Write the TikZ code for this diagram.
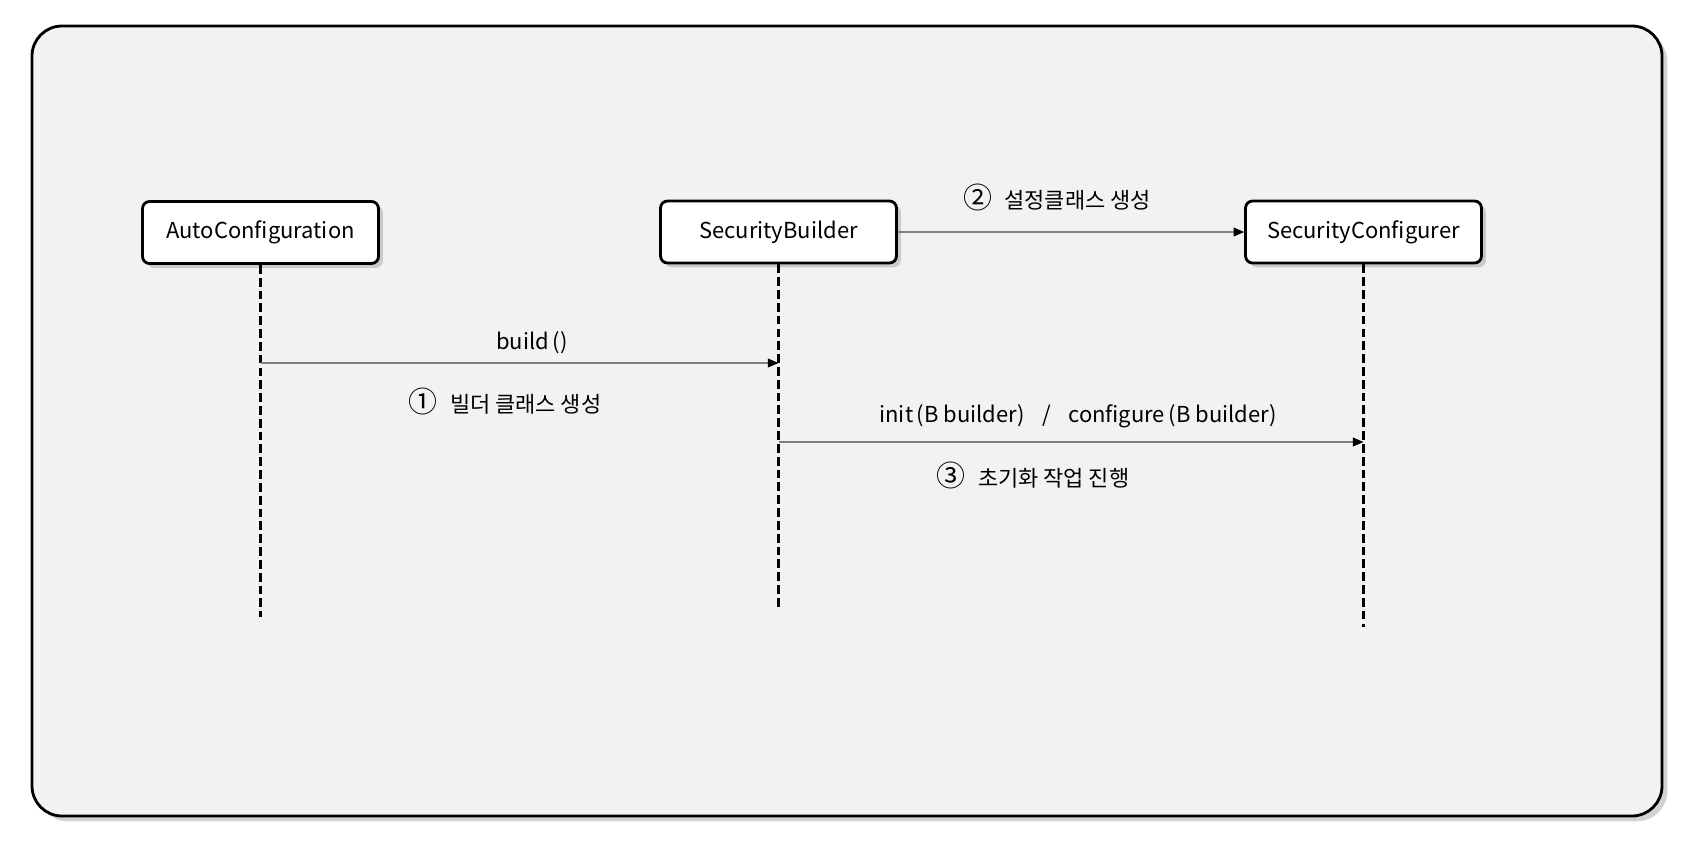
\documentclass[tikz,border=0pt]{standalone}
\usepackage{fontspec}
\setmainfont{Noto Sans CJK KR}
\usetikzlibrary{arrows.meta,shadows}
\definecolor{panelgray}{HTML}{F2F2F2}
\definecolor{msggray}{HTML}{7F7F7F}
\newcommand{\stepno}[1]{{\fontsize{16.5}{16.5}\selectfont #1}\hspace{7pt}}
\tikzset{
    obj/.style={draw=black, line width=1.6pt, fill=white, rounded corners=4pt,
        minimum width=4.72cm, minimum height=1.24cm, font=\fontsize{12.5}{15}\selectfont,
        drop shadow={shadow xshift=2.5pt, shadow yshift=-2.5pt, opacity=0.35}},
    life/.style={line width=1.8pt, dash pattern=on 5pt off 2.3pt},
    msg/.style={draw=msggray, line width=0.6pt, -{Triangle[length=6pt,width=5pt,black]}},
    lbl/.style={font=\fontsize{12.5}{15}\selectfont}
}
\begin{document}
\begin{tikzpicture}[x=0.02cm, y=-0.02cm]
    \useasboundingbox (0,0) rectangle (1704,850);
    % panel
    \draw [line width=1.6pt, fill=panelgray, rounded corners=0.6cm,
        drop shadow={shadow xshift=3pt, shadow yshift=-3pt, opacity=0.35}] (32,26) rectangle (1662,816);
    % objects
    \coordinate (acEnd) at (260.5,617);
    \coordinate (sbEnd) at (778.5,609);
    \coordinate (scEnd) at (1363.5,627);
    \node[obj] (ac) at (260.5,232.5) {AutoConfiguration};
    \node[obj] (sb) at (778.5,232) {SecurityBuilder};
    \node[obj] (sc) at (1363.5,232) {SecurityConfigurer};
    \draw[life] (ac.south) -- (acEnd);
    \draw[life] (sb.south) -- (sbEnd);
    \draw[life] (sc.south) -- (scEnd);
    % messages
    \coordinate (m1a) at (260.5,363);
    \coordinate (m1b) at (778.5,363);
    \coordinate (m3a) at (778.5,442);
    \coordinate (m3b) at (1363.5,442);
    \draw[msg] (m1a) -- (m1b);
    \draw[msg] (sb.east) -- (sc.west);
    \draw[msg] (m3a) -- (m3b);
    \node[lbl] (l1) at (532,343) {build\,()};
    \node[lbl] (l1k) at (505,401) {\stepno{①}빌더 클래스 생성};
    \node[lbl] (l2k) at (1057,197) {\stepno{②}설정클래스 생성};
    \node[lbl] (l3) at (1078,416) {init\,(B builder)\hspace{10pt}/\hspace{10pt}configure\,(B builder)};
    \node[lbl] (l3k) at (1033,475) {\stepno{③}초기화 작업 진행};
\end{tikzpicture}
\end{document}
